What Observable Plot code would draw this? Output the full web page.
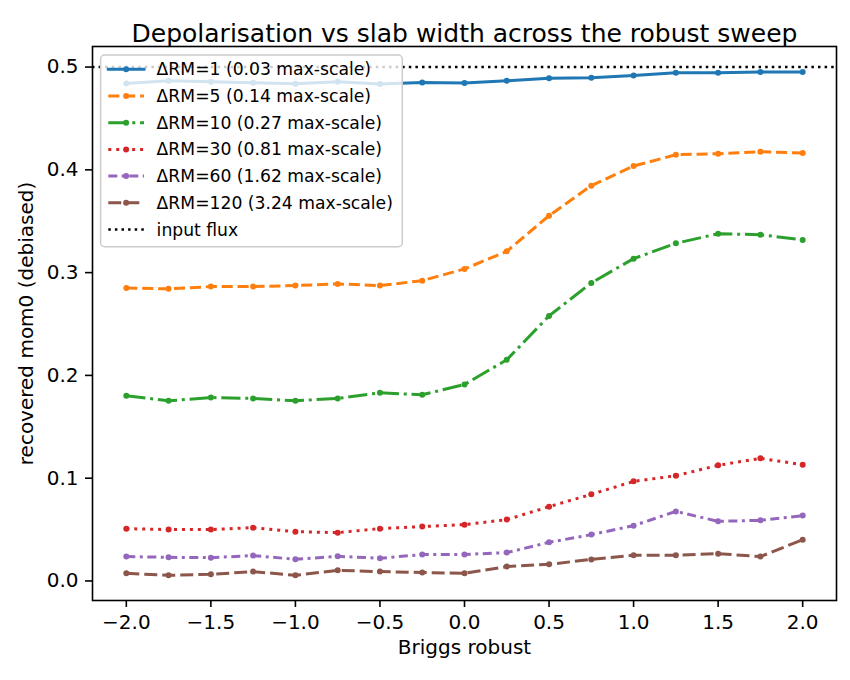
<!DOCTYPE html>
<html>
<head>
<meta charset="utf-8">
<script src="https://cdn.jsdelivr.net/npm/d3@7"></script>
<script src="https://cdn.jsdelivr.net/npm/@observablehq/plot@0.6"></script>
<style>
  body { margin: 0; background: #fff; }
  #chart svg { display: block; font-family: "DejaVu Sans", sans-serif; }
</style>
</head>
<body>
<div id="chart"></div>
<script>
// Briggs robust parameter values of the sweep
const robust = [-2.0, -1.75, -1.5, -1.25, -1.0, -0.75, -0.5, -0.25, 0.0, 0.25, 0.5, 0.75, 1.0, 1.25, 1.5, 1.75, 2.0];

// Slab widths and their ratio to the maximum recoverable scale
const deltaRM = [1, 5, 10, 30, 60, 120];
const maxScale = ["0.03", "0.14", "0.27", "0.81", "1.62", "3.24"];

// Recovered moment-0 (debiased) per slab width
const mom0_dRM1   = [0.4840, 0.4866, 0.4856, 0.4847, 0.4837, 0.4856, 0.4834, 0.4849, 0.4845, 0.4866, 0.4892, 0.4895, 0.4917, 0.4944, 0.4944, 0.4953, 0.4953];
const mom0_dRM5   = [0.2851, 0.2842, 0.2864, 0.2864, 0.2874, 0.2890, 0.2874, 0.2922, 0.3036, 0.3207, 0.3554, 0.3846, 0.4037, 0.4147, 0.4157, 0.4176, 0.4163];
const mom0_dRM10  = [0.1802, 0.1753, 0.1785, 0.1776, 0.1753, 0.1776, 0.1831, 0.1811, 0.1912, 0.2152, 0.2579, 0.2900, 0.3136, 0.3285, 0.3379, 0.3369, 0.3318];
const mom0_dRM30  = [0.0509, 0.0500, 0.0500, 0.0519, 0.0480, 0.0470, 0.0509, 0.0529, 0.0548, 0.0597, 0.0723, 0.0843, 0.0969, 0.1024, 0.1125, 0.1193, 0.1131];
const mom0_dRM60  = [0.0237, 0.0230, 0.0227, 0.0247, 0.0211, 0.0240, 0.0221, 0.0257, 0.0258, 0.0276, 0.0376, 0.0451, 0.0538, 0.0677, 0.0580, 0.0590, 0.0636];
const mom0_dRM120 = [0.0075, 0.0055, 0.0065, 0.0091, 0.0055, 0.0104, 0.0091, 0.0082, 0.0075, 0.0140, 0.0162, 0.0210, 0.0250, 0.0250, 0.0266, 0.0237, 0.0402];

// True injected flux
const inputFlux = 0.5;

// Axis ticks and text
const xTicks = [-2.0, -1.5, -1.0, -0.5, 0.0, 0.5, 1.0, 1.5, 2.0];
const yTicks = [0.0, 0.1, 0.2, 0.3, 0.4, 0.5];
const titleText = "Depolarisation vs slab width across the robust sweep";
const xLabel = "Briggs robust";
const yLabel = "recovered mom0 (debiased)";
const inputLabel = "input flux";

// Line styles per series (tab10 colours and dash patterns)
const colors = ["#1f77b4", "#ff7f0e", "#2ca02c", "#d62728", "#9467bd", "#8c564b"];
const dashes = [null, "11.1,4.8", "19.2,4.8,3,4.8", "3,4.95", "9,4.5,3,4.5", "13,5"];
const fluxDash = "2.5,4.1";

const seriesValues = [mom0_dRM1, mom0_dRM5, mom0_dRM10, mom0_dRM30, mom0_dRM60, mom0_dRM120];
const seriesLabels = deltaRM.map((d, i) => `ΔRM=${d} (${maxScale[i]} max-scale)`);

const margin = {left: 92, right: 14, top: 46, bottom: 80};
const width = 850, height = 680;
const fmt = d3.format(".1f");

const seriesMarks = seriesValues.flatMap((vals, i) => [
  Plot.line(vals, {
    x: (d, j) => robust[j], y: d => d,
    stroke: colors[i], strokeWidth: 3,
    strokeDasharray: dashes[i] ?? undefined,
    strokeLinejoin: "round", strokeLinecap: dashes[i] ? "butt" : "square"
  }),
  Plot.dot(vals, {
    x: (d, j) => robust[j], y: d => d,
    r: 3, fill: colors[i], stroke: "none"
  })
]);

const chart = Plot.plot({
  width, height,
  marginLeft: margin.left, marginRight: margin.right,
  marginTop: margin.top, marginBottom: margin.bottom,
  style: {fontFamily: "DejaVu Sans, sans-serif", fontSize: "20px", color: "#000", background: "#fff"},
  x: {domain: [-2.2, 2.2]},
  y: {domain: [-0.019, 0.52]},
  marks: [
    ...seriesMarks,
    Plot.ruleY([inputFlux], {stroke: "#000", strokeWidth: 2.5, strokeDasharray: fluxDash}),
    Plot.frame({stroke: "#000", strokeWidth: 1.6}),
    Plot.axisX({ticks: xTicks, tickFormat: fmt, tickSize: 7, tickPadding: 7, strokeWidth: 1.6, label: null, fontSize: 20}),
    Plot.axisY({ticks: yTicks, tickFormat: fmt, tickSize: 7, tickPadding: 7, strokeWidth: 1.6, label: null, fontSize: 20}),
    Plot.text([titleText], {text: d => d, frameAnchor: "top", dy: -22, fontSize: 25, fill: "#000"}),
    Plot.text([xLabel], {text: d => d, frameAnchor: "bottom", dy: 53.6, fontSize: 20, fill: "#000"}),
    Plot.text([yLabel], {text: d => d, frameAnchor: "left", textAnchor: "middle", dx: -66, rotate: -90, fontSize: 20, fill: "#000"})
  ]
});

document.getElementById("chart").appendChild(chart);

// Legend box in the upper-left corner of the plot frame
const svg = d3.select(chart);
const legendEntries = seriesLabels.map((label, i) => ({label, color: colors[i], dash: dashes[i], marker: true, width: 3}))
  .concat([{label: inputLabel, color: "#000", dash: fluxDash, marker: false, width: 2.5}]);

const lg = svg.append("g")
  .attr("transform", `translate(${margin.left + 8.6},${margin.top + 9})`);

lg.append("rect")
  .attr("width", 301.7).attr("height", 191.7)
  .attr("rx", 4).attr("ry", 4)
  .attr("fill", "#fff").attr("fill-opacity", 0.8)
  .attr("stroke", "#cccccc").attr("stroke-width", 1.5);

const rowH = 26.7;
const rows = lg.selectAll("g.entry").data(legendEntries).join("g")
  .attr("class", "entry")
  .attr("transform", (d, i) => `translate(0,${14.3 + i * rowH})`);

rows.append("line")
  .attr("x1", 7.7).attr("x2", 43.4)
  .attr("stroke", d => d.color).attr("stroke-width", d => d.width)
  .attr("stroke-dasharray", d => d.dash)
  .attr("stroke-linecap", d => d.dash ? "butt" : "square");

rows.filter(d => d.marker).append("circle")
  .attr("cx", 25.5).attr("r", 3).attr("fill", d => d.color);

rows.append("text")
  .attr("x", 56).attr("dy", "0.35em")
  .attr("text-anchor", "start")
  .attr("font-size", 17.2).attr("fill", "#000")
  .text(d => d.label);
</script>
</body>
</html>
